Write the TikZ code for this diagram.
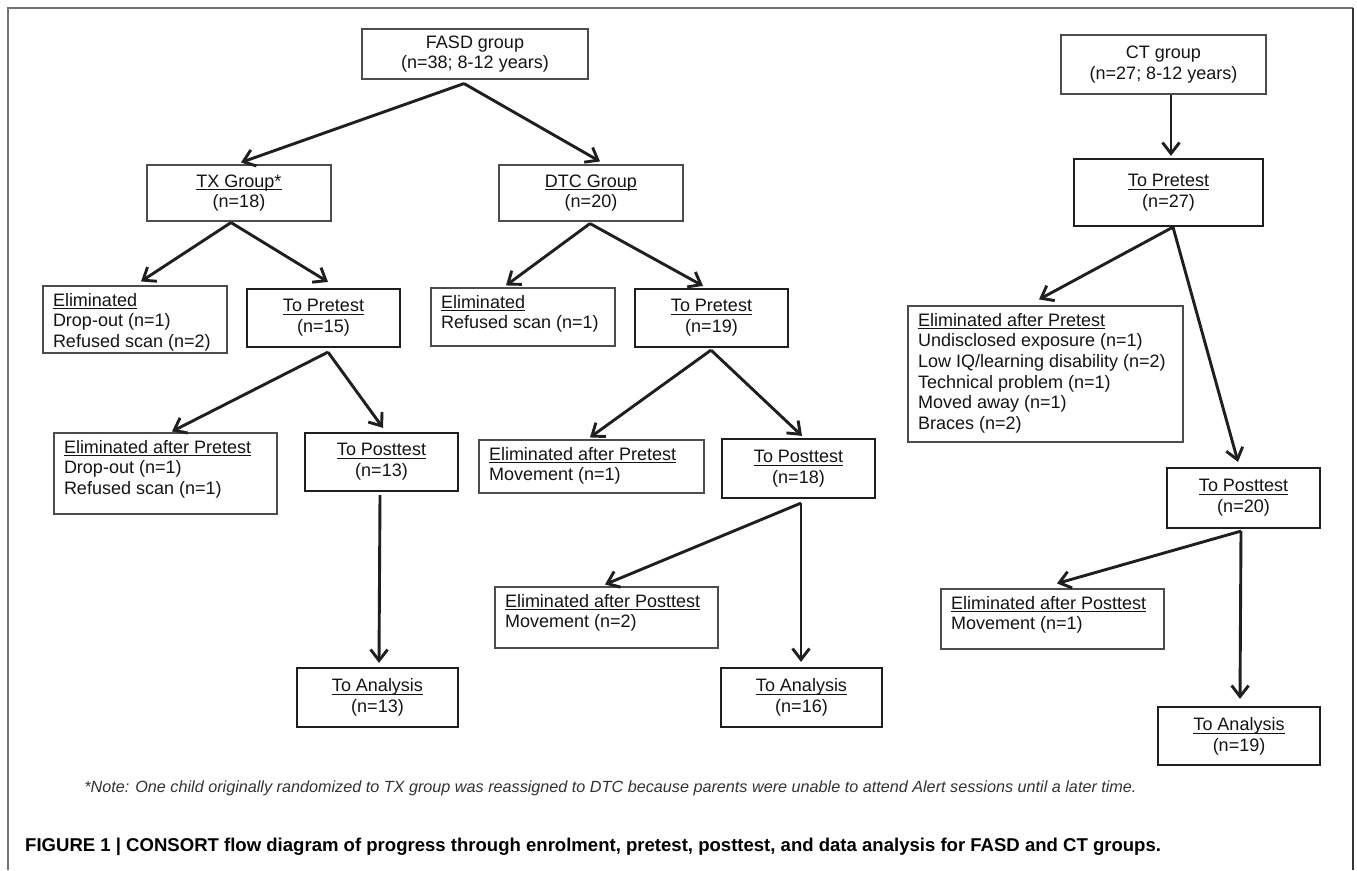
\documentclass[tikz,border=0pt]{standalone}
\usepackage{fontspec}
\setmainfont{Liberation Sans}
\usetikzlibrary{arrows.meta,calc}
\newcommand\eltext[3]{\parbox[c][#2pt][t]{#1pt}{\raggedright\rule{0pt}{20pt}#3}}
\newcommand\uln[1]{\setbox0\hbox{#1}\rlap{\rule[-3.2pt]{\wd0}{1pt}}\box0}
\begin{document}
\begin{tikzpicture}[x=1pt,y=-1pt,
  every node/.style={font=\fontsize{18}{20.7}\selectfont, text=black!92, inner sep=0pt},
  sz/.style 2 args={minimum width=#1pt, minimum height=#2pt},
  bx/.style={draw=black!70, line width=1.1pt, align=center},
  tb/.style={draw=black!88, line width=2.2pt, align=center},
  arr/.style={draw=black!88, line width=2.9pt, -{Straight Barb[length=11pt,width=17pt]}},
]
\useasboundingbox (0,0) rectangle (1357,870);
\fill[white] (0,0) rectangle (1357,870);
% frame
\draw[black!55, line width=1.6pt] (8,870) -- (8,8) -- (1353,8);
\draw[black!80, line width=1.6pt] (1353,8) -- (1353,870);

% FASD branch
\node[bx, sz={226}{50}] (fasd) at (475,54) {FASD group\\(n=38; 8-12 years)};
\node[bx, sz={184}{56}] (tx) at (239,193) {\uln{TX Group*}\\(n=18)};
\node[bx, sz={184}{56}] (dtc) at (591,193) {\uln{DTC Group}\\(n=20)};
\node[bx, sz={184}{67}] (txelim) at (135,319.5) {\eltext{164}{67}{\uln{Eliminated}\\Drop-out (n=1)\\Refused scan (n=2)}};
\node[tb, sz={153}{58}] (txpre) at (323.5,318) {\uln{To Pretest}\\(n=15)};
\node[bx, sz={184}{58}] (dtcelim) at (523,317) {\eltext{164}{58}{\uln{Eliminated}\\Refused scan (n=1)}};
\node[tb, sz={153}{58}] (dtcpre) at (711.5,318) {\uln{To Pretest}\\(n=19)};
\node[bx, sz={223}{81}] (txelim2) at (165.5,473.5) {\eltext{203}{81}{\uln{Eliminated after Pretest}\\Drop-out (n=1)\\Refused scan (n=1)}};
\node[tb, sz={153}{58}] (txpost) at (381.5,462) {\uln{To Posttest}\\(n=13)};
\node[tb, sz={161}{59}] (txana) at (377.5,697.5) {\uln{To Analysis}\\(n=13)};
\node[bx, sz={225}{53}] (dtcelim2) at (591.5,466.5) {\eltext{205}{53}{\uln{Eliminated after Pretest}\\Movement (n=1)}};
\node[tb, sz={153}{59}] (dtcpost) at (798.5,468.5) {\uln{To Posttest}\\(n=18)};
\node[bx, sz={223}{61}] (dtcelim3) at (606.5,617.5) {\eltext{203}{61}{\uln{Eliminated after Posttest}\\Movement (n=2)}};
\node[tb, sz={161}{59}] (dtcana) at (801.5,697.5) {\uln{To Analysis}\\(n=16)};

% CT branch
\node[bx, sz={205}{59}] (ct) at (1163.5,64.5) {CT group\\(n=27; 8-12 years)};
\node[tb, sz={189}{67}] (ctpre) at (1168.5,192.5) {\uln{To Pretest}\\(n=27)};
\node[bx, sz={275}{136}] (ctelim) at (1045.5,374) {\eltext{255}{136}{\uln{Eliminated after Pretest}\\Undisclosed exposure (n=1)\\Low IQ/learning disability (n=2)\\Technical problem (n=1)\\Moved away (n=1)\\Braces (n=2)}};
\node[tb, sz={153}{60}] (ctpost) at (1243.5,498) {\uln{To Posttest}\\(n=20)};
\node[bx, sz={223}{60}] (ctelim2) at (1052.5,619) {\eltext{203}{60}{\uln{Eliminated after Posttest}\\Movement (n=1)}};
\node[tb, sz={162}{58}] (ctana) at (1239,736) {\uln{To Analysis}\\(n=19)};

% arrows
\draw[arr] ($(fasd.south)+(-11,4)$) -- ($(tx.north)+(2,-2)$);
\draw[arr] ($(fasd.south)+(-11,4)$) -- ($(dtc.north)+(9,-3)$);
\draw[arr] ($(tx.south)+(-8,1)$) -- ($(txelim.north)+(6,-4)$);
\draw[arr] ($(tx.south)+(-8,1)$) -- ($(txpre.north)+(4.5,-6)$);
\draw[arr] ($(dtc.south)+(-1,2)$) -- ($(dtcelim.north)+(-17,-2)$);
\draw[arr] ($(dtc.south)+(-1,2)$) -- ($(dtcpre.north)+(-8.5,-2)$);
\draw[arr] ($(txpre.south)+(4.5,4)$) -- ($(txelim2.north)+(6.5,-1)$);
\draw[arr] ($(txpre.south)+(4.5,4)$) -- ($(txpost.north)+(1.5,-4)$);
\draw[arr] ($(txpost.south)+(-1.5,3)$) -- ($(txana.north)+(1.5,-4)$);
\draw[arr] ($(dtcpre.south)+(-0.5,2)$) -- ($(dtcelim2.north)+(-1.5,-2)$);
\draw[arr] ($(dtcpre.south)+(-0.5,2)$) -- ($(dtcpost.north)+(3.5,-2)$);
\draw[arr] ($(dtcpost.south)+(2.5,4)$) -- ($(dtcelim3.north)+(-1.5,-2)$);
\draw[arr] ($(dtcpost.south)+(2.5,4)$) -- ($(dtcana.north)+(-0.5,-5)$);
\draw[arr] ($(ct.south)+(7.5,0)$) -- ($(ctpre.north)+(2.5,-2)$);
\draw[arr] ($(ctpre.south)+(4.5,0)$) -- ($(ctelim.north)+(-6.5,-6)$);
\draw[arr] ($(ctpre.south)+(4.5,0)$) -- ($(ctpost.north)+(-5.5,-5)$);
\draw[arr] ($(ctpost.south)+(-2.5,2)$) -- ($(ctelim2.north)+(4.5,-5)$);
\draw[arr] ($(ctpost.south)+(-2.5,2)$) -- ($(ctana.north)+(1,-7)$);

% note and caption
\node[font=\fontsize{16.2}{19}\selectfont\itshape, text=black!80] (note) at (610.5,788) {*Note: One child originally randomized to TX group was reassigned to DTC because parents were unable to attend Alert sessions until a later time.};
\node[anchor=west, font=\fontsize{18.55}{21}\selectfont\bfseries, text=black] (cap) at (25,847) {FIGURE 1 | CONSORT flow diagram of progress through enrolment, pretest, posttest, and data analysis for FASD and CT groups.};
\end{tikzpicture}
\end{document}
